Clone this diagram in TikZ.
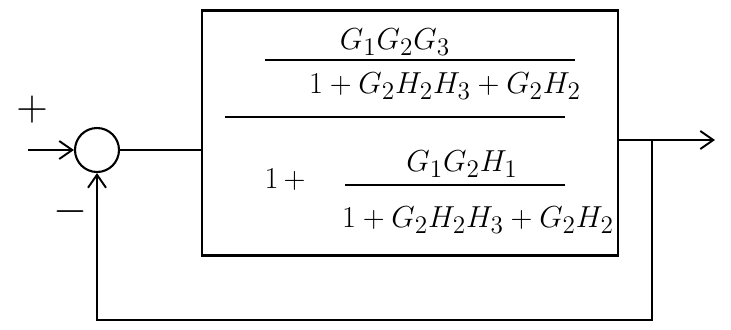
\documentclass[tikz,border=0pt]{standalone}
\usepackage{amsmath,amssymb}
\usetikzlibrary{arrows.meta,positioning,calc}

\begin{document}
\begin{tikzpicture}[
  x=0.02cm, y=-0.02cm,
  junc/.style={circle, draw, line width=1.2pt, fill=white, inner sep=0pt,
               minimum size=0.88cm},
  blockbox/.style={rectangle, draw, line width=1.3pt, minimum width=8.32cm,
                   minimum height=4.9cm, inner sep=0pt},
  wire/.style={line width=1.1pt},
  sig/.style={-{Straight Barb[length=2.6mm,width=3.6mm,line width=1.1pt]},
              line width=1.1pt},
  bar/.style={line width=1.2pt},
  sign/.style={font=\fontsize{28}{32}\selectfont},
  every node/.style={font=\fontsize{19}{23}\selectfont}]

\useasboundingbox (0,0) rectangle (731,329);

% ================= the summing point and the block ======================
\node[junc]     (sum)   at ( 97,150) {};
\node[blockbox] (block) at (410,133) {};

\coordinate (in)     at ( 28,150);
\coordinate (out)    at (715,140);
\coordinate (branch) at (652,140);
\coordinate (fb)     at (652,320);

\node[sign] (plus)  at ( 32,110) {$+$};
\node[sign] (minus) at ( 70,212) {$-$};

% ================= the transfer function inside the block ===============
\node (num1) at (395, 42) {$G_1G_2G_3$};
\node (den1) at (445, 86) {$1+G_2H_2H_3+G_2H_2$};
\draw[bar] (265, 60) -- (575, 60);
\draw[bar] (225,117) -- (565,117);

\node (one)  at (285,180) {$1\,+$};
\node (num2) at (462,164) {$G_1G_2H_1$};
\node (den2) at (478,220) {$1+G_2H_2H_3+G_2H_2$};
\draw[bar] (345,185) -- (565,185);

% ================= the signals ==========================================
\draw[sig]  (in) -- (sum.west);
\draw[wire] (sum.east) -- (sum.east -| block.west);
\draw[sig]  (branch -| block.east) -- (out);
\draw[sig]  (branch) -- (fb) -| (sum.south);

\end{tikzpicture}
\end{document}
